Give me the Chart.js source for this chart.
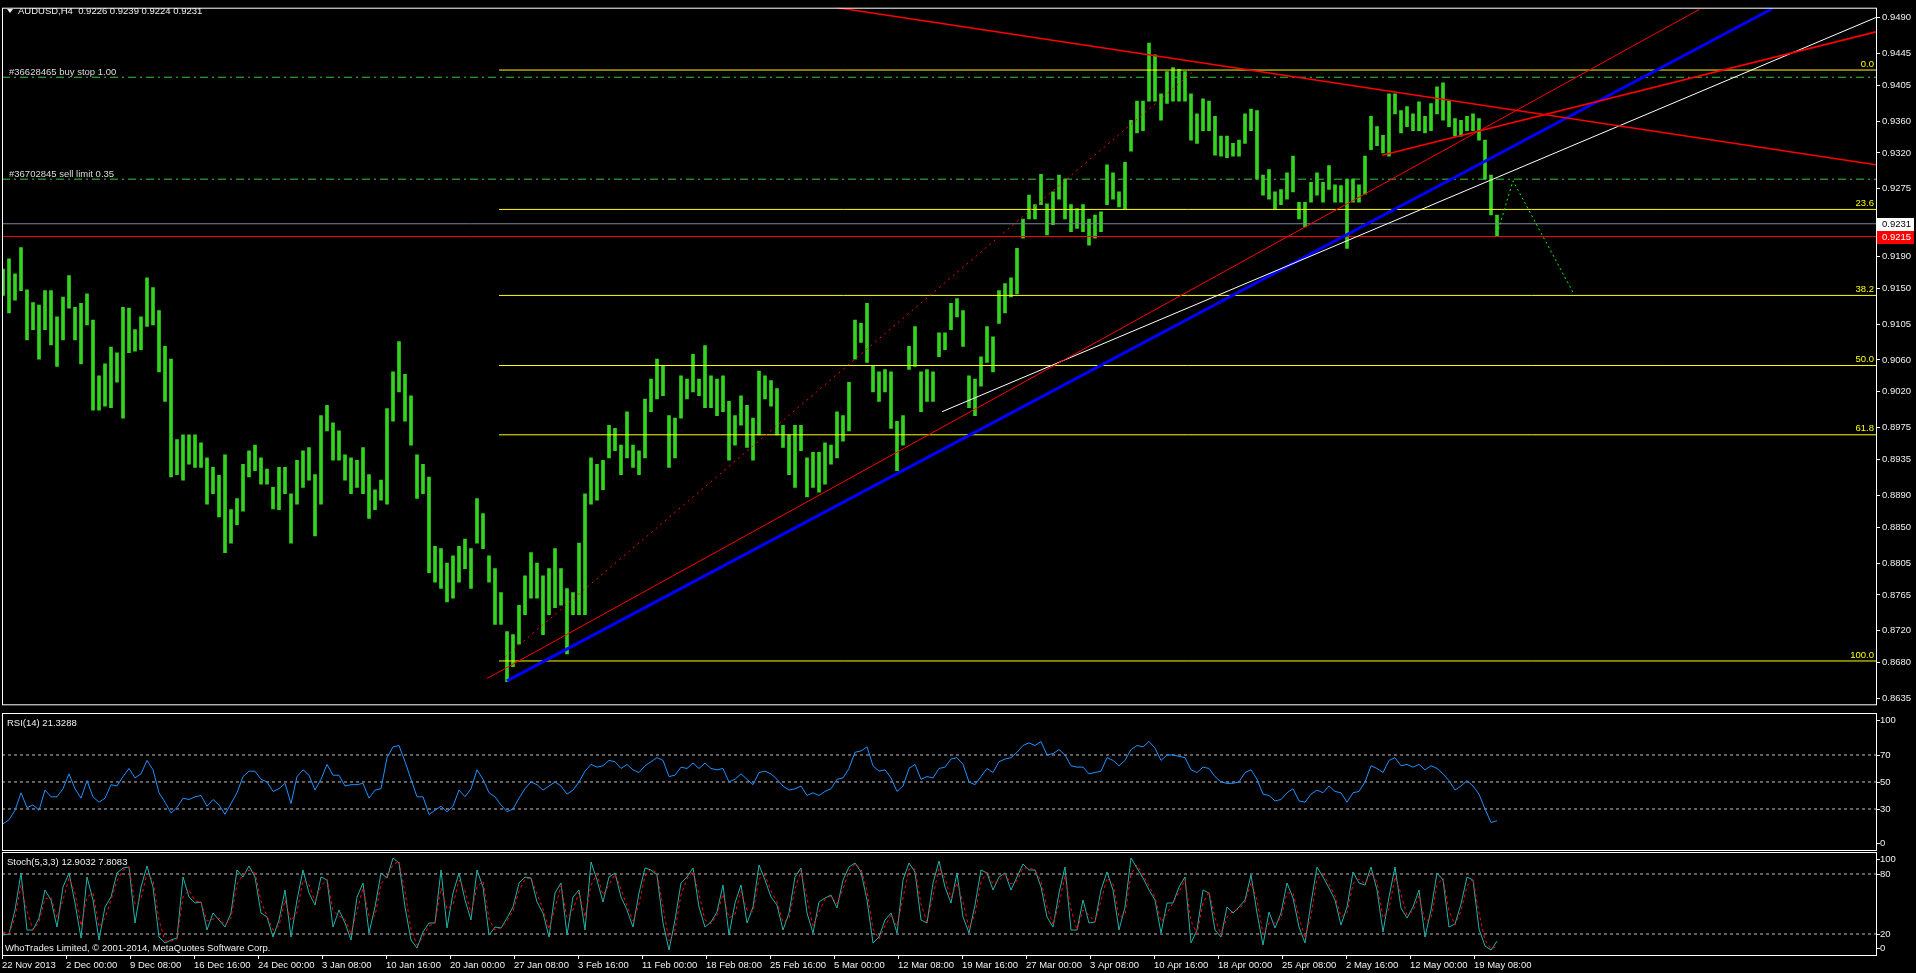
<!DOCTYPE html>
<html><head><meta charset="utf-8">
<script src="https://cdn.jsdelivr.net/npm/chart.js@4.4.1/dist/chart.umd.min.js"></script>
<style>
html,body{margin:0;padding:0;background:#000;overflow:hidden;width:1916px;height:973px}
canvas{position:absolute;left:0}
#cMain{top:0}#cRsi{top:712px}#cSto{top:851px}
</style></head><body>
<canvas id="cMain" width="1916" height="712"></canvas>
<canvas id="cRsi" width="1916" height="139"></canvas>
<canvas id="cSto" width="1916" height="122"></canvas>
<script>
// ---------- data ----------
const symbolTitle = 'AUDUSD,H4  0.9226 0.9239 0.9224 0.9231';
const rsiTitle = 'RSI(14) 21.3288';
const stochTitle = 'Stoch(5,3,3) 12.9032 7.8083';
const copyrightText = 'WhoTrades Limited, \u00a9 2001-2014, MetaQuotes Software Corp.';

const priceHigh = [0.9174,0.9187,0.9168,0.9201,0.9148,0.9132,0.9129,0.9147,0.9147,0.9114,
0.9139,0.9166,0.9126,0.9131,0.9143,0.9110,0.9040,0.9055,0.9076,0.9069,
0.9126,0.9125,0.9098,0.9114,0.9163,0.9151,0.9122,0.9077,0.9061,0.8960,
0.8966,0.8966,0.8966,0.8956,0.8937,0.8925,0.8915,0.8941,0.8872,0.8886,
0.8929,0.8946,0.8953,0.8937,0.8923,0.8900,0.8925,0.8925,0.8892,0.8934,
0.8946,0.8950,0.8916,0.8990,0.9003,0.8981,0.8971,0.8941,0.8937,0.8934,
0.8950,0.8916,0.8897,0.8909,0.8999,0.9045,0.9083,0.9042,0.9015,0.8941,
0.8929,0.8913,0.8826,0.8823,0.8805,0.8814,0.8826,0.8835,0.8823,0.8886,
0.8867,0.8814,0.8798,0.8768,0.8719,0.8715,0.8752,0.8789,0.8818,0.8805,
0.8789,0.8798,0.8823,0.8798,0.8773,0.8768,0.8830,0.8892,0.8937,0.8929,
0.8934,0.8978,0.8974,0.8953,0.8995,0.8953,0.8946,0.9011,0.9036,0.9061,
0.9052,0.8990,0.8987,0.9040,0.9036,0.9067,0.9036,0.9078,0.9040,0.9036,
0.9040,0.9008,0.8990,0.9015,0.9003,0.8987,0.9046,0.9040,0.9034,0.9024,
0.8978,0.8966,0.8978,0.8978,0.8937,0.8944,0.8944,0.8956,0.8953,0.8995,
0.8990,0.9032,0.9110,0.9106,0.9131,0.9052,0.9045,0.9048,0.9045,0.8983,
0.8990,0.9077,0.9102,0.9045,0.9048,0.9045,0.9094,0.9094,0.9131,0.9137,
0.9122,0.9040,0.9036,0.9064,0.9102,0.9089,0.9147,0.9156,0.9163,0.9200,
0.9237,0.9267,0.9255,0.9293,0.9256,0.9271,0.9292,0.9287,0.9255,0.9250,
0.9255,0.9237,0.9242,0.9246,0.9305,0.9295,0.9271,0.9308,0.9361,0.9385,
0.9385,0.9458,0.9443,0.9394,0.9422,0.9427,0.9425,0.9422,0.9394,0.9369,
0.9388,0.9385,0.9366,0.9341,0.9341,0.9332,0.9336,0.9369,0.9375,0.9373,
0.9292,0.9299,0.9271,0.9274,0.9295,0.9316,0.9258,0.9258,0.9283,0.9295,
0.9283,0.9304,0.9280,0.9279,0.9287,0.9287,0.9280,0.9316,0.9366,0.9353,
0.9342,0.9394,0.9394,0.9373,0.9378,0.9369,0.9384,0.9366,0.9382,0.9403,
0.9408,0.9385,0.9363,0.9361,0.9366,0.9369,0.9363,0.9336,0.9292,0.9242];

const priceLow = [0.9141,0.9119,0.9135,0.9147,0.9085,0.9098,0.9061,0.9098,0.9079,0.9052,
0.9085,0.9125,0.9085,0.9055,0.9104,0.8997,0.8997,0.9002,0.9000,0.9032,
0.8987,0.9069,0.9071,0.9073,0.9102,0.9104,0.9045,0.9008,0.8913,0.8916,
0.8909,0.8929,0.8925,0.8925,0.8879,0.8892,0.8863,0.8818,0.8830,0.8853,
0.8870,0.8913,0.8921,0.8904,0.8904,0.8873,0.8872,0.8892,0.8830,0.8879,
0.8900,0.8909,0.8839,0.8879,0.8971,0.8934,0.8934,0.8909,0.8892,0.8900,
0.8892,0.8861,0.8872,0.8884,0.8879,0.8983,0.9020,0.8983,0.8953,0.8886,
0.8892,0.8793,0.8781,0.8773,0.8756,0.8761,0.8781,0.8798,0.8773,0.8830,
0.8823,0.8781,0.8728,0.8728,0.8656,0.8675,0.8703,0.8740,0.8761,0.8761,
0.8715,0.8740,0.8749,0.8752,0.8691,0.8740,0.8740,0.8740,0.8879,0.8884,
0.8897,0.8937,0.8946,0.8916,0.8937,0.8925,0.8916,0.8937,0.8995,0.9011,
0.9015,0.8925,0.8937,0.8987,0.9011,0.9020,0.9015,0.9000,0.9000,0.8990,
0.8995,0.8934,0.8953,0.8978,0.8950,0.8934,0.8966,0.9011,0.9002,0.8966,
0.8950,0.8916,0.8900,0.8946,0.8888,0.8900,0.8894,0.8904,0.8929,0.8937,
0.8958,0.8971,0.9061,0.9082,0.9057,0.9020,0.9008,0.9020,0.8974,0.8921,
0.8953,0.9048,0.9052,0.8995,0.9008,0.9008,0.9064,0.9073,0.9098,0.9114,
0.9077,0.9000,0.8990,0.9027,0.9057,0.9045,0.9106,0.9119,0.9139,0.9143,
0.9213,0.9237,0.9237,0.9255,0.9217,0.9230,0.9262,0.9237,0.9221,0.9225,
0.9221,0.9204,0.9213,0.9221,0.9255,0.9262,0.9252,0.9250,0.9322,0.9345,
0.9348,0.9385,0.9385,0.9361,0.9382,0.9385,0.9385,0.9385,0.9336,0.9332,
0.9348,0.9348,0.9317,0.9316,0.9314,0.9316,0.9316,0.9332,0.9348,0.9287,
0.9267,0.9262,0.9250,0.9255,0.9262,0.9271,0.9237,0.9227,0.9258,0.9267,
0.9258,0.9274,0.9258,0.9258,0.9200,0.9258,0.9258,0.9268,0.9324,0.9329,
0.9320,0.9316,0.9369,0.9345,0.9353,0.9348,0.9348,0.9345,0.9348,0.9369,
0.9361,0.9353,0.9341,0.9341,0.9348,0.9348,0.9336,0.9287,0.9242,0.9215];

const rsiValues = [19,22,29,42,31,33,29,44,39,39,
45,56,45,38,51,39,35,38,48,47,
54,60,53,56,66,59,42,35,27,31,
38,37,39,40,32,37,33,26,34,42,
54,58,58,52,50,43,45,49,34,54,
59,55,44,52,63,55,55,47,48,48,
49,38,44,45,68,76,77,65,52,39,
39,26,29,32,28,32,44,39,45,59,
52,42,39,
33,28,30,38,45,50,48,44,47,50,47,41,44,50,58,63,61,62,66,65,
60,63,59,57,62,65,68,66,54,55,61,60,64,60,64,60,59,60,50,52,
56,52,48,57,58,56,52,47,44,45,47,40,42,40,43,45,52,53,60,72,
73,76,62,58,59,53,43,47,60,63,52,54,53,60,61,67,68,63,50,48,
54,60,57,65,67,68,72,77,79,77,80,70,71,74,70,62,61,61,56,57,
58,68,66,62,66,74,77,76,80,75,66,70,70,69,68,59,57,61,60,54,
50,49,49,50,57,59,52,41,40,36,37,42,45,36,35,41,44,42,47,43,
42,35,42,43,50,62,60,57,66,68,62,63,61,63,59,62,60,56,51,44,
47,51,47,41,30,20,21.3];

const stochMain = [19,20,44,81,24,24,36,64,54,27,
67,81,51,16,77,54,14,47,57,81,
86,87,31,67,88,67,17,11,14,16,
77,57,51,52,24,41,34,27,41,84,
77,88,77,41,37,17,34,64,17,54,
84,61,49,77,74,27,44,31,14,57,
71,21,47,81,76,96,91,47,14,6,
22,31,31,84,26,61,81,54,34,84,
67,19,27,26,36,47,71,77,76,52,
41,17,61,71,19,57,64,24,92,74,
52,77,81,57,44,27,61,86,84,79,
31,4,34,71,77,86,47,27,32,42,
69,19,51,69,31,47,89,74,57,49,
24,41,77,86,41,21,52,56,59,46,
74,87,91,82,54,11,17,34,41,21,
74,91,82,34,31,71,93,67,51,81,
37,21,49,84,81,64,77,81,64,77,
90,84,84,67,37,27,61,87,24,24,
54,31,32,64,82,64,24,47,96,86,
76,64,54,21,51,51,67,77,11,24,
64,61,24,17,47,41,47,54,79,41,
9,42,26,41,71,56,27,11,51,87,
77,66,54,29,47,82,71,69,87,64,
22,57,87,46,36,47,64,17,44,81,
74,27,30,50,77,74,25,8,4,12.9];

const stochSignal = [22,20,36,69,43,24,32,55,57,36,
54,76,61,28,57,61,27,36,54,73,
84,87,50,55,81,74,34,13,13,15,
57,64,53,52,33,35,36,29,36,70,
79,84,81,53,38,24,28,54,33,42,
74,69,53,68,75,43,38,35,20,43,
66,38,38,70,78,89,93,62,25,9,
17,28,31,66,45,49,74,63,41,67,
73,35,24,26,33,43,63,75,76,60,
45,25,46,68,36,44,62,37,69,80,
59,69,80,65,48,33,50,78,85,81,
47,13,24,59,75,83,60,34,30,39,
60,36,40,63,44,42,75,79,63,52,
32,35,65,83,56,28,42,55,58,50,
65,83,90,85,63,25,15,28,39,28,
56,85,85,50,32,58,86,76,56,71,
52,26,40,72,82,70,73,80,70,73,
86,86,84,73,47,30,50,78,45,24,
44,39,32,53,76,70,37,39,80,89,
79,68,57,32,41,51,62,74,33,20,
51,62,36,19,37,43,45,52,71,54,
20,31,31,36,61,61,37,16,38,75,
80,70,58,37,41,70,75,70,81,72,
36,45,77,60,39,43,58,33,35,69,
76,43,29,43,68,75,41,14,5,7.8];

const dateLabels = ['22 Nov 2013','2 Dec 00:00','9 Dec 08:00','16 Dec 16:00','24 Dec 00:00','3 Jan 08:00',
'10 Jan 16:00','20 Jan 00:00','27 Jan 08:00','3 Feb 16:00','11 Feb 00:00','18 Feb 08:00','25 Feb 16:00',
'5 Mar 00:00','12 Mar 08:00','19 Mar 16:00','27 Mar 00:00','3 Apr 08:00','10 Apr 16:00','18 Apr 00:00',
'25 Apr 08:00','2 May 16:00','12 May 00:00','19 May 08:00'];
const dateTickBars = [0.5,32.5,64.5,96.5,128.5,160.5,192.5,224.5,256.5,288.5,320.5,352.5,384.5,
416.5,448.5,480.5,512.5,544.5,576.5,608.5,640.5,672.5,704.5,736.5];

const priceTicks = [0.9490,0.9445,0.9405,0.9360,0.9320,0.9275,0.9190,0.9150,0.9105,0.9060,
0.9020,0.8975,0.8935,0.8890,0.8850,0.8805,0.8765,0.8720,0.8680,0.8635];

const fibLabels = ['0.0','23.6','38.2','50.0','61.8','100.0'];
const fibPrices = [0.9424,0.9249,0.9141,0.9053,0.8966,0.8682];
const fibStartBar = 249;

const orderLabels = ['#36628465 buy stop 1.00','#36702845 sell limit 0.35'];
const orderPrices = [0.9415,0.9287];
const bidPrice = 0.9231;
const redLinePrice = 0.9215;

const trendBlue = [[253,0.8657],[885.5,0.9501]];
const trendRedLong = [[243,0.8660],[849,0.9500]];
const trendRedDotted = [[252,0.8687],[595.5,0.9421]];
const trendRedFalling = [[417.5,0.95025],[937.5,0.9305]];
const trendRedShort = [[690.5,0.9317],[937.5,0.9472]];
const trendWhite = [[470.5,0.8995],[937.5,0.9490]];
const projection = [[748,0.9218],[756,0.9285],[786,0.9145]];

const rsiLevels = [70,50,30];
const rsiAxisLabels = [100,70,50,30,0];
const stochLevels = [80,20];
const stochAxisLabels = [100,80,20,0];

// ---------- setup ----------
const X_MIN = 0.5, X_MAX = 937.5;
const Y_MIN = 0.86276, Y_MAX = 0.95023;
const barOf = k => 3 * k + 1;
const FAM = "'Liberation Sans', Arial, sans-serif";
const FS = 9.5;
const FONT = FS + 'px ' + FAM;
const TXT = '#f0f0f0';

function hx() { return { type:'linear', min:X_MIN, max:X_MAX, display:false, offset:false, grid:{display:false} }; }
function seg(points, color, width, dash, order) {
  return { type:'line', data: points.map(p => ({x:p[0], y:p[1]})), borderColor:color, backgroundColor:color,
    borderWidth:width, borderDash:dash || [], pointRadius:0, fill:false, tension:0, order: order || 1 };
}
function hline(v, color, dash, from) { return seg([[from === undefined ? X_MIN : from, v],[X_MAX, v]], color, 1, dash, 3); }

const base = {
  responsive:false, animation:false, devicePixelRatio:1, events:[],
  plugins:{ legend:{display:false}, tooltip:{enabled:false} }
};

function frame(ctx, a) {
  ctx.strokeStyle = '#ffffff'; ctx.lineWidth = 1;
  ctx.strokeRect(a.left + 0.5, a.top + 0.5, a.right - a.left, a.bottom - a.top);
}

const mainDecor = {
  id:'mainDecor',
  afterDraw(c) {
    const {ctx, chartArea:a, scales:{y}} = c;
    ctx.save();
    frame(ctx, a);
    ctx.font = FONT; ctx.textBaseline = 'middle';
    // title
    ctx.fillStyle = TXT;
    ctx.beginPath(); ctx.moveTo(7, 9); ctx.lineTo(13, 9); ctx.lineTo(10, 13); ctx.closePath(); ctx.fill();
    ctx.textAlign = 'left';
    ctx.fillText(symbolTitle, 18, 11);
    // order labels
    ctx.fillStyle = '#dcdcdc';
    orderLabels.forEach((t, i) => ctx.fillText(t, 9, y.getPixelForValue(orderPrices[i]) - 5));
    // fib labels
    ctx.fillStyle = '#ffff00'; ctx.textAlign = 'right';
    fibLabels.forEach((t, i) => ctx.fillText(t, a.right - 2, y.getPixelForValue(fibPrices[i]) - 6));
    // price boxes
    ctx.textAlign = 'left';
    const boxes = [[bidPrice, '#ffffff', '#000000'], [redLinePrice, '#ff0000', '#ffffff']];
    boxes.forEach(([v, bg, fg]) => {
      const py = Math.round(y.getPixelForValue(v));
      ctx.fillStyle = bg; ctx.fillRect(a.right + 1, py - 6, 37, 13);
      ctx.fillStyle = fg; ctx.fillText(v.toFixed(4), a.right + 6, py + 0.5);
    });
    ctx.restore();
  }
};

function sideDecor(labels, title, extra) {
  return {
    id:'sideDecor',
    afterDraw(c) {
      const {ctx, chartArea:a, scales:{y}} = c;
      ctx.save();
      frame(ctx, a);
      ctx.font = FONT; ctx.textBaseline = 'middle'; ctx.textAlign = 'left';
      ctx.fillStyle = TXT;
      labels.forEach(v => {
        let py = y.getPixelForValue(v);
        py = Math.min(Math.max(py, a.top + 7), a.bottom - 7);
        ctx.fillRect(a.right + 1, Math.round(py), 3, 1);
        ctx.fillText(String(v), a.right + 4, py);
      });
      ctx.fillText(title, 7, a.top + 10);
      if (extra) ctx.fillText(extra, 5, a.bottom - 7);
      ctx.restore();
    }
  };
}

// ---------- main price chart ----------
new Chart(document.getElementById('cMain'), {
  type:'bar',
  data:{ datasets:[
    { type:'bar', data: priceHigh.map((h, k) => ({x:barOf(k), y:[priceLow[k], h]})),
      backgroundColor:'#32d41e', borderWidth:0, barThickness:3, grouped:false, order:10 },
    ...fibPrices.map(p => hline(p, '#ffff00', [], fibStartBar)),
    ...orderPrices.map(p => hline(p, '#32cd32', [8,4,2,4])),
    hline(bidPrice, '#778899', []),
    hline(redLinePrice, '#ff0000', []),
    seg(trendRedLong, '#ff0000', 1),
    seg(trendRedDotted, '#ff0000', 1, [2,4]),
    seg(trendRedFalling, '#ff0000', 1.6),
    seg(trendRedShort, '#ff0000', 1.6),
    seg(trendWhite, '#ffffff', 1),
    seg(trendBlue, '#0000ff', 3),
    seg(projection, '#00ff00', 1, [2,3])
  ]},
  options:Object.assign({}, base, {
    layout:{ padding:{left:2, top:2, right:0, bottom:1}, autoPadding:false },
    scales:{
      x: hx(),
      y: { type:'linear', position:'right', min:Y_MIN, max:Y_MAX,
        afterBuildTicks: s => { s.ticks = priceTicks.map(v => ({value:v})); },
        afterFit: s => { s.width = 40; },
        grid:{ drawOnChartArea:false, drawTicks:true, tickLength:4, color:'#ffffff' },
        border:{ display:false },
        ticks:{ color:TXT, font:{family:FAM, size:FS}, padding:2, autoSkip:false, callback: v => Number(v).toFixed(4) } }
    }
  }),
  plugins:[mainDecor]
});

// ---------- RSI ----------
new Chart(document.getElementById('cRsi'), {
  type:'line',
  data:{ datasets:[
    ...rsiLevels.map(v => hline(v, '#c0c0c0', [3,3])),
    { data: rsiValues.map((v, k) => ({x:barOf(k), y:v})), borderColor:'#1e90ff', borderWidth:1,
      pointRadius:0, fill:false, tension:0, order:1 }
  ]},
  options:Object.assign({}, base, {
    layout:{ padding:{left:2, top:1, right:40, bottom:1}, autoPadding:false },
    scales:{ x: hx(), y:{ type:'linear', min:-0.4, max:101.1, display:false } }
  }),
  plugins:[sideDecor(rsiAxisLabels, rsiTitle)]
});

// ---------- Stochastic ----------
new Chart(document.getElementById('cSto'), {
  type:'line',
  data:{ datasets:[
    ...stochLevels.map(v => hline(v, '#c0c0c0', [3,3])),
    { data: stochMain.map((v, k) => ({x:barOf(k), y:v})), borderColor:'#20b2aa', borderWidth:1,
      pointRadius:0, fill:false, tension:0, order:2 },
    { data: stochSignal.map((v, k) => ({x:barOf(k), y:v})), borderColor:'#ff0000', borderWidth:1,
      borderDash:[3,3], pointRadius:0, fill:false, tension:0, order:1 }
  ]},
  options:Object.assign({}, base, {
    layout:{ padding:{left:2, top:1, right:40, bottom:0}, autoPadding:false },
    scales:{
      x:{ type:'linear', min:X_MIN, max:X_MAX, offset:false, position:'bottom',
        afterBuildTicks: s => { s.ticks = dateTickBars.map(v => ({value:v})); },
        afterFit: s => { s.height = 18; },
        grid:{ drawOnChartArea:false, drawTicks:true, tickLength:4, color:'#ffffff', offset:false },
        border:{ display:false },
        ticks:{ color:TXT, font:{family:FAM, size:FS}, padding:1, autoSkip:false, maxRotation:0, minRotation:0,
          align:'start', callback:(v, i) => dateLabels[i] } },
      y:{ type:'linear', min:-1, max:102, display:false }
    }
  }),
  plugins:[sideDecor(stochAxisLabels, stochTitle, copyrightText)]
});
</script>
</body></html>
